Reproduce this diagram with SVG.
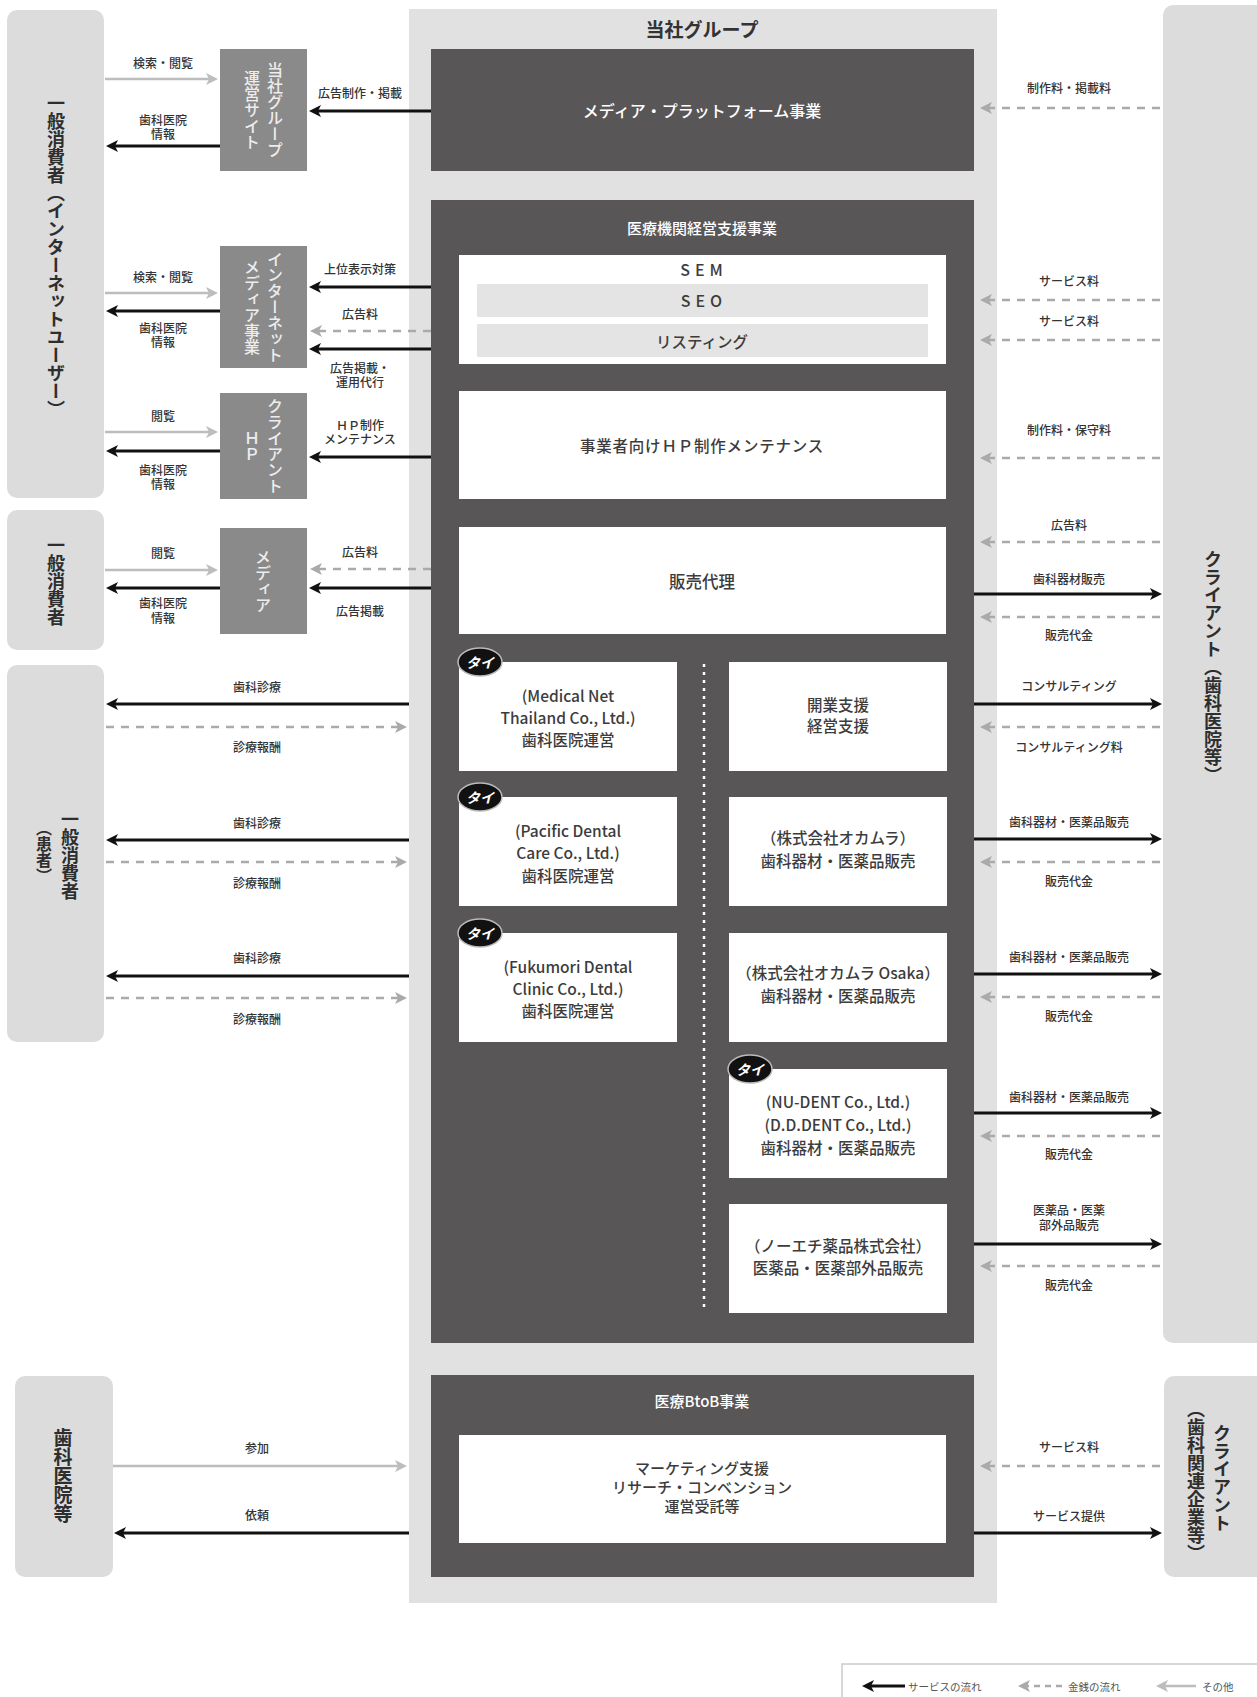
<svg xmlns="http://www.w3.org/2000/svg" width="1257" height="1697" viewBox="0 0 1257 1697">
<defs>
<style>
text{font-family:"Noto Sans CJK JP","Noto Sans",sans-serif}
.lbl{font-size:12px;font-weight:500;fill:#333;text-anchor:middle;dominant-baseline:central}
.v{writing-mode:vertical-rl;text-anchor:middle}
.ent{fill:#dcdcdc}
.entt{font-size:18px;font-weight:700;fill:#2e2e2e}
.node{fill:#8a8a8a}
.nodet{font-size:16px;font-weight:500;fill:#ededed}
.dark{fill:#595657}
.dt{font-size:16px;font-weight:500;fill:#fff;text-anchor:middle;dominant-baseline:central}
.wbox{fill:#fff}
.bar{fill:#e4e4e4}
.bt{font-size:15.5px;font-weight:500;fill:#3c3c3c;text-anchor:middle;dominant-baseline:central}
.svc{stroke:#111;stroke-width:3;fill:none;marker-end:url(#ab)}
.money{stroke:#aaa;stroke-width:2.5;stroke-dasharray:8 7;fill:none;marker-end:url(#ag)}
.other{stroke:#bdbdbd;stroke-width:2.5;fill:none;marker-end:url(#ao)}
.badge{fill:#111;stroke:#bbb;stroke-width:1.5}
.badget{font-size:14px;font-weight:700;font-style:italic;fill:#fff;text-anchor:middle;dominant-baseline:central}
.leg{font-size:10.5px;fill:#555;dominant-baseline:central}
</style>
<marker id="ab" viewBox="0 0 12 12" markerWidth="12" markerHeight="12" refX="6" refY="6" orient="auto" markerUnits="userSpaceOnUse"><path d="M0,0 L12,6 L0,12 L3,6 z" fill="#111"/></marker>
<marker id="ag" viewBox="0 0 12 12" markerWidth="12" markerHeight="12" refX="6" refY="6" orient="auto" markerUnits="userSpaceOnUse"><path d="M0,0 L12,6 L0,12 L3,6 z" fill="#aaa"/></marker>
<marker id="ao" viewBox="0 0 12 12" markerWidth="12" markerHeight="12" refX="6" refY="6" orient="auto" markerUnits="userSpaceOnUse"><path d="M0,0 L12,6 L0,12 L3,6 z" fill="#bdbdbd"/></marker>
</defs>
<rect width="1257" height="1697" fill="#fff"/>

<!-- outer entities -->
<g id="consumer-internet"><rect class="ent" x="7" y="10" width="97" height="488" rx="10"/><text class="v entt" x="56" y="256">一般消費者（インターネットユーザー）</text></g>
<g id="consumer"><rect class="ent" x="7" y="510" width="97" height="140" rx="10"/><text class="v entt" x="56" y="581">一般消費者</text></g>
<g id="consumer-patient"><rect class="ent" x="7" y="665" width="97" height="377" rx="10"/><text class="v entt" x="70" y="855">一般消費者</text><text class="v entt" x="44" y="852" style="font-size:16px">（患者）</text></g>
<g id="dental-clinics"><rect class="ent" x="15" y="1376" width="98" height="201" rx="10"/><text class="v entt" x="63" y="1476" style="font-size:19px">歯科医院等</text></g>
<g id="client-clinics"><rect class="ent" x="1163" y="5" width="110" height="1338" rx="10"/><text class="v entt" x="1213" y="667">クライアント（歯科医院等）</text></g>
<g id="client-companies"><rect class="ent" x="1164" y="1376" width="110" height="201" rx="10"/><text class="v entt" x="1222" y="1478">クライアント</text><text class="v entt" x="1196" y="1481">（歯科関連企業等）</text></g>

<!-- group -->
<g id="company-group"><rect x="409" y="9" width="588" height="1594" fill="#e1e1e1"/><text x="702" y="28" style="font-size:19px;font-weight:700;fill:#333;text-anchor:middle;dominant-baseline:central">当社グループ</text></g>

<g id="media-platform"><rect class="dark" x="431" y="49" width="543" height="122"/><text class="dt" x="702" y="110">メディア・プラットフォーム事業</text></g>

<g id="medical-support"><rect class="dark" x="431" y="200" width="543" height="1143"/><text class="dt" x="702" y="227" style="font-size:15px">医療機関経営支援事業</text>
<line x1="704" y1="664" x2="704" y2="1312" stroke="#fff" stroke-width="2.5" stroke-dasharray="3 5"/>
</g>

<g id="sem"><rect class="wbox" x="459" y="255" width="487" height="109"/><text class="bt" x="704" y="269" style="letter-spacing:5px;font-size:16px">SEM</text>
<rect class="bar" x="477" y="284" width="451" height="33"/><text class="bt" x="704" y="300" style="letter-spacing:5px;font-size:16px">SEO</text>
<rect class="bar" x="477" y="324" width="451" height="33"/><text class="bt" x="702" y="341">リスティング</text></g>
<g id="hp-maintenance"><rect class="wbox" x="459" y="391" width="487" height="108"/><text class="bt" x="702" y="445" style="letter-spacing:0.8px">事業者向けＨＰ制作メンテナンス</text></g>
<g id="sales-agency"><rect class="wbox" x="459" y="527" width="487" height="107"/><text class="bt" x="702" y="581" style="font-size:16.5px">販売代理</text></g>

<g id="medical-net"><rect class="wbox" x="459" y="662" width="218" height="109"/><text class="bt" x="568" y="695">(Medical Net</text><text class="bt" x="568" y="717">Thailand Co., Ltd.)</text><text class="bt" x="568" y="739">歯科医院運営</text>
<ellipse class="badge" cx="480" cy="662" rx="22" ry="14"/><text class="badget" x="480" y="662">タイ</text></g>
<g id="pacific-dental"><rect class="wbox" x="459" y="797" width="218" height="109"/><text class="bt" x="568" y="830">(Pacific Dental</text><text class="bt" x="568" y="852">Care Co., Ltd.)</text><text class="bt" x="568" y="875">歯科医院運営</text>
<ellipse class="badge" cx="480" cy="797" rx="22" ry="14"/><text class="badget" x="480" y="797">タイ</text></g>
<g id="fukumori-dental"><rect class="wbox" x="459" y="933" width="218" height="109"/><text class="bt" x="568" y="966">(Fukumori Dental</text><text class="bt" x="568" y="988">Clinic Co., Ltd.)</text><text class="bt" x="568" y="1010">歯科医院運営</text>
<ellipse class="badge" cx="480" cy="933" rx="22" ry="14"/><text class="badget" x="480" y="933">タイ</text></g>

<g id="consulting"><rect class="wbox" x="729" y="662" width="218" height="109"/><text class="bt" x="838" y="704">開業支援</text><text class="bt" x="838" y="725">経営支援</text></g>
<g id="okamura"><rect class="wbox" x="729" y="797" width="218" height="109"/><text class="bt" x="838" y="837">（株式会社オカムラ）</text><text class="bt" x="838" y="860">歯科器材・医薬品販売</text></g>
<g id="okamura-osaka"><rect class="wbox" x="729" y="933" width="218" height="109"/><text class="bt" x="838" y="972">（株式会社オカムラ Osaka）</text><text class="bt" x="838" y="995">歯科器材・医薬品販売</text></g>
<g id="nu-dent"><rect class="wbox" x="729" y="1069" width="218" height="109"/><text class="bt" x="838" y="1101">(NU-DENT Co., Ltd.)</text><text class="bt" x="838" y="1124">(D.D.DENT Co., Ltd.)</text><text class="bt" x="838" y="1147">歯科器材・医薬品販売</text>
<ellipse class="badge" cx="750" cy="1069" rx="22" ry="14"/><text class="badget" x="750" y="1069">タイ</text></g>
<g id="noechi"><rect class="wbox" x="729" y="1204" width="218" height="109"/><text class="bt" x="838" y="1245">（ノーエチ薬品株式会社）</text><text class="bt" x="838" y="1267">医薬品・医薬部外品販売</text></g>

<g id="medical-btob"><rect class="dark" x="431" y="1375" width="543" height="202"/><text class="dt" x="702" y="1400" style="font-size:15px">医療BtoB事業</text>
<rect class="wbox" x="459" y="1435" width="487" height="108"/><text class="bt" x="702" y="1467" style="font-size:15px">マーケティング支援</text><text class="bt" x="702" y="1486" style="font-size:15px">リサーチ・コンベンション</text><text class="bt" x="702" y="1505" style="font-size:15px">運営受託等</text></g>

<!-- gray media nodes -->
<g id="group-site"><rect class="node" x="220" y="49" width="87" height="122"/><text class="v nodet" x="275" y="110">当社グループ</text><text class="v nodet" x="252" y="110">運営サイト</text></g>
<g id="internet-media"><rect class="node" x="220" y="246" width="87" height="122"/><text class="v nodet" x="275" y="307">インターネット</text><text class="v nodet" x="252" y="307">メディア事業</text></g>
<g id="client-hp"><rect class="node" x="220" y="393" width="87" height="106"/><text class="v nodet" x="275" y="446">クライアント</text><text class="v nodet" x="252" y="446">ＨＰ</text></g>
<g id="media"><rect class="node" x="220" y="528" width="87" height="106"/><text class="v nodet" x="263" y="581">メディア</text></g>

<!-- connectors -->
<g id="connectors">
<path class="other" d="M105 79 H212"/>
<path class="svc" d="M220 146 H112"/>
<path class="svc" d="M431 111 H315"/>
<path class="other" d="M105 293 H212"/>
<path class="svc" d="M220 311 H112"/>
<path class="svc" d="M431 287 H315"/>
<path class="money" d="M431 331 H316"/>
<path class="svc" d="M431 349 H315"/>
<path class="other" d="M105 432 H212"/>
<path class="svc" d="M220 451 H112"/>
<path class="svc" d="M431 457 H315"/>
<path class="other" d="M105 570 H212"/>
<path class="svc" d="M220 588 H112"/>
<path class="money" d="M431 569 H316"/>
<path class="svc" d="M431 588 H315"/>

<path class="svc" d="M409 704 H112"/>
<path class="money" d="M106 727 H401"/>
<path class="svc" d="M409 840 H112"/>
<path class="money" d="M106 862 H401"/>
<path class="svc" d="M409 976 H112"/>
<path class="money" d="M106 998 H401"/>

<path class="other" d="M113 1466 H401"/>
<path class="svc" d="M409 1533 H120"/>

<path class="money" d="M1160 108 H986"/>
<path class="money" d="M1160 300 H986"/>
<path class="money" d="M1160 340 H986"/>
<path class="money" d="M1160 458 H986"/>
<path class="money" d="M1160 542 H986"/>
<path class="svc" d="M974 594 H1156"/>
<path class="money" d="M1160 617 H986"/>
<path class="svc" d="M974 704 H1156"/>
<path class="money" d="M1160 727 H986"/>
<path class="svc" d="M974 839 H1156"/>
<path class="money" d="M1160 862 H986"/>
<path class="svc" d="M974 974 H1156"/>
<path class="money" d="M1160 997 H986"/>
<path class="svc" d="M974 1113 H1156"/>
<path class="money" d="M1160 1136 H986"/>
<path class="svc" d="M974 1244 H1156"/>
<path class="money" d="M1160 1266 H986"/>
<path class="money" d="M1160 1466 H986"/>
<path class="svc" d="M974 1533 H1156"/>

<text class="lbl" x="163" y="62">検索・閲覧</text>
<text class="lbl" x="163" y="119">歯科医院</text><text class="lbl" x="163" y="133">情報</text>
<text class="lbl" x="360" y="92">広告制作・掲載</text>
<text class="lbl" x="163" y="276">検索・閲覧</text>
<text class="lbl" x="163" y="327">歯科医院</text><text class="lbl" x="163" y="341">情報</text>
<text class="lbl" x="360" y="268">上位表示対策</text>
<text class="lbl" x="360" y="313">広告料</text>
<text class="lbl" x="360" y="367">広告掲載・</text><text class="lbl" x="360" y="381">運用代行</text>
<text class="lbl" x="163" y="415">閲覧</text>
<text class="lbl" x="163" y="469">歯科医院</text><text class="lbl" x="163" y="483">情報</text>
<text class="lbl" x="360" y="424">ＨＰ制作</text><text class="lbl" x="360" y="438">メンテナンス</text>
<text class="lbl" x="163" y="552">閲覧</text>
<text class="lbl" x="163" y="602">歯科医院</text><text class="lbl" x="163" y="617">情報</text>
<text class="lbl" x="360" y="551">広告料</text>
<text class="lbl" x="360" y="610">広告掲載</text>

<text class="lbl" x="257" y="686">歯科診療</text><text class="lbl" x="257" y="746">診療報酬</text>
<text class="lbl" x="257" y="822">歯科診療</text><text class="lbl" x="257" y="882">診療報酬</text>
<text class="lbl" x="257" y="957">歯科診療</text><text class="lbl" x="257" y="1018">診療報酬</text>
<text class="lbl" x="257" y="1447">参加</text>
<text class="lbl" x="257" y="1514">依頼</text>

<text class="lbl" x="1069" y="87">制作料・掲載料</text>
<text class="lbl" x="1069" y="280">サービス料</text>
<text class="lbl" x="1069" y="320">サービス料</text>
<text class="lbl" x="1069" y="429">制作料・保守料</text>
<text class="lbl" x="1069" y="524">広告料</text>
<text class="lbl" x="1069" y="578">歯科器材販売</text>
<text class="lbl" x="1069" y="634">販売代金</text>
<text class="lbl" x="1069" y="685">コンサルティング</text>
<text class="lbl" x="1069" y="746">コンサルティング料</text>
<text class="lbl" x="1069" y="821">歯科器材・医薬品販売</text>
<text class="lbl" x="1069" y="880">販売代金</text>
<text class="lbl" x="1069" y="956">歯科器材・医薬品販売</text>
<text class="lbl" x="1069" y="1015">販売代金</text>
<text class="lbl" x="1069" y="1096">歯科器材・医薬品販売</text>
<text class="lbl" x="1069" y="1153">販売代金</text>
<text class="lbl" x="1069" y="1209">医薬品・医薬</text><text class="lbl" x="1069" y="1224">部外品販売</text>
<text class="lbl" x="1069" y="1284">販売代金</text>
<text class="lbl" x="1069" y="1446">サービス料</text>
<text class="lbl" x="1069" y="1515">サービス提供</text>
</g>

<!-- legend -->
<g id="legend">
<rect x="842" y="1664" width="430" height="60" fill="none" stroke="#ccc" stroke-width="1.5"/>
<path class="svc" d="M905 1686 H868"/>
<text class="leg" x="908" y="1686">サービスの流れ</text>
<path class="money" d="M1062 1686 H1024" style="stroke-dasharray:6 5"/>
<text class="leg" x="1068" y="1686">金銭の流れ</text>
<path class="other" d="M1196 1686 H1162"/>
<text class="leg" x="1202" y="1686">その他</text>
</g>
</svg>
